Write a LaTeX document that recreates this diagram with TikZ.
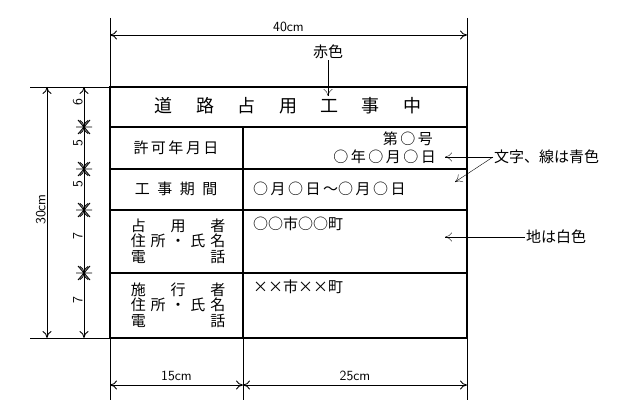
\documentclass[tikz,border=0pt]{standalone}
\usepackage{fontspec}
\newfontfamily\jp{Noto Sans CJK JP}
\usetikzlibrary{positioning,arrows.meta}
\newcommand{\spread}[1]{\makebox[6.3em][s]{#1}}
\begin{document}
\begin{tikzpicture}[x=1pt,y=-1pt,
    >={To[length=7pt,width=9pt]},
    board/.style={line width=1.8pt},
    dimline/.style={line width=0.9pt,<->},
    ext/.style={line width=0.9pt},
    lbl/.style={font=\jp\fontsize{15}{17}\selectfont,inner sep=1pt},
    cell/.style={font=\jp\fontsize{15}{16}\selectfont,inner sep=1pt},
    dimtxt/.style={font=\sffamily\fontsize{14}{15}\selectfont,inner sep=1pt}]
    \useasboundingbox (0,0) rectangle (628,419);
    % board
    \coordinate (tl) at (110,87);
    \coordinate (br) at (467,338);
    \draw[board] (tl) rectangle (br);
    \foreach \y in {127,169,210,273}
        \draw[board] (110,\y) -- (467,\y);
    \draw[board] (243,127) -- (243,338);
    % extension lines
    \draw[ext] (110,18) -- (110,87) (467,18) -- (467,87);
    \draw[ext] (110,338) -- (110,400) (467,338) -- (467,400) (243,338) -- (243,400);
    \draw[ext] (30,87) -- (110,87) (30,338) -- (110,338);
    % dimensions
    \coordinate (t1) at (110,35); \coordinate (t2) at (467,35);
    \draw[dimline] (t1) -- node[dimtxt,above=2pt] {40cm} (t2);
    \coordinate (b1) at (110,385); \coordinate (b2) at (243,385); \coordinate (b3) at (467,385);
    \draw[dimline] (b1) -- node[dimtxt,above=3pt] {15cm} (b2);
    \draw[dimline] (b2) -- node[dimtxt,above=3pt] {25cm} (b3);
    \coordinate (l1) at (47,87); \coordinate (l2) at (47,338);
    \draw[dimline] (l1) -- node[dimtxt,rotate=90,above=3pt] {30cm} (l2);
    \foreach \a/\b/\n in {87/127/6,127/169/5,169/210/5,210/273/7,273/338/7}
        \draw[dimline] (84,\a) -- node[dimtxt,rotate=90,above=5pt] {\n} (84,\b);
    \foreach \y in {127,169,210,273}
        \draw[ext] (78,\y-7) -- (90,\y+7) (78,\y+7) -- (90,\y-7) (76,\y) -- (92,\y);
    % texts
    \node[cell,font=\jp\fontsize{18}{19}\selectfont] (title) at (288,106) {道\hspace{1.3em}路\hspace{1.3em}占\hspace{1.3em}用\hspace{1.3em}工\hspace{1.3em}事\hspace{1.3em}中};
    \node[cell] (kyoka) at (176,148) {許\,可\,年\,月\,日};
    \node[cell,anchor=east] (dai) at (434,139) {第\,○\,号};
    \node[cell,anchor=east] (date) at (437,157) {○\,年\,○\,月\,○\,日};
    \node[cell] (kikan) at (176,189) {工\enspace 事\enspace 期\enspace 間};
    \node[cell,anchor=west] (term) at (252,189) {○\,月\,○\,日\,～○\,月\,○\,日};
    \node[cell,align=left,font=\jp\fontsize{15}{15.5}\selectfont] (senyo) at (178,241)
        {\spread{占\hfill 用\hfill 者}\\\spread{住\hfill 所\hfill ・\hfill 氏\hfill 名}\\\spread{電\hfill 話}};
    \node[cell,anchor=west] (city1) at (252,224) {○○市○○町};
    \node[cell,align=left,font=\jp\fontsize{15}{15.5}\selectfont] (seko) at (178,305)
        {\spread{施\hfill 行\hfill 者}\\\spread{住\hfill 所\hfill ・\hfill 氏\hfill 名}\\\spread{電\hfill 話}};
    \node[cell,anchor=west] (city2) at (252,287) {××市××町};
    % notes
    \node[lbl] (red) at (328,52) {赤色};
    \coordinate (redtip) at (328,96);
    \draw[->] (red) -- (redtip);
    \node[lbl,anchor=west] (blue) at (493,157) {文字、線は青色};
    \coordinate (bt1) at (445,157); \coordinate (bt2) at (455,182);
    \draw[->] (blue.west) -- (bt1);
    \draw[->] (blue.west) -- (bt2);
    \node[lbl,anchor=west] (white) at (525,237) {地は白色};
    \coordinate (wt) at (445,237);
    \draw[->] (white.west) -- (wt);
\end{tikzpicture}
\end{document}
